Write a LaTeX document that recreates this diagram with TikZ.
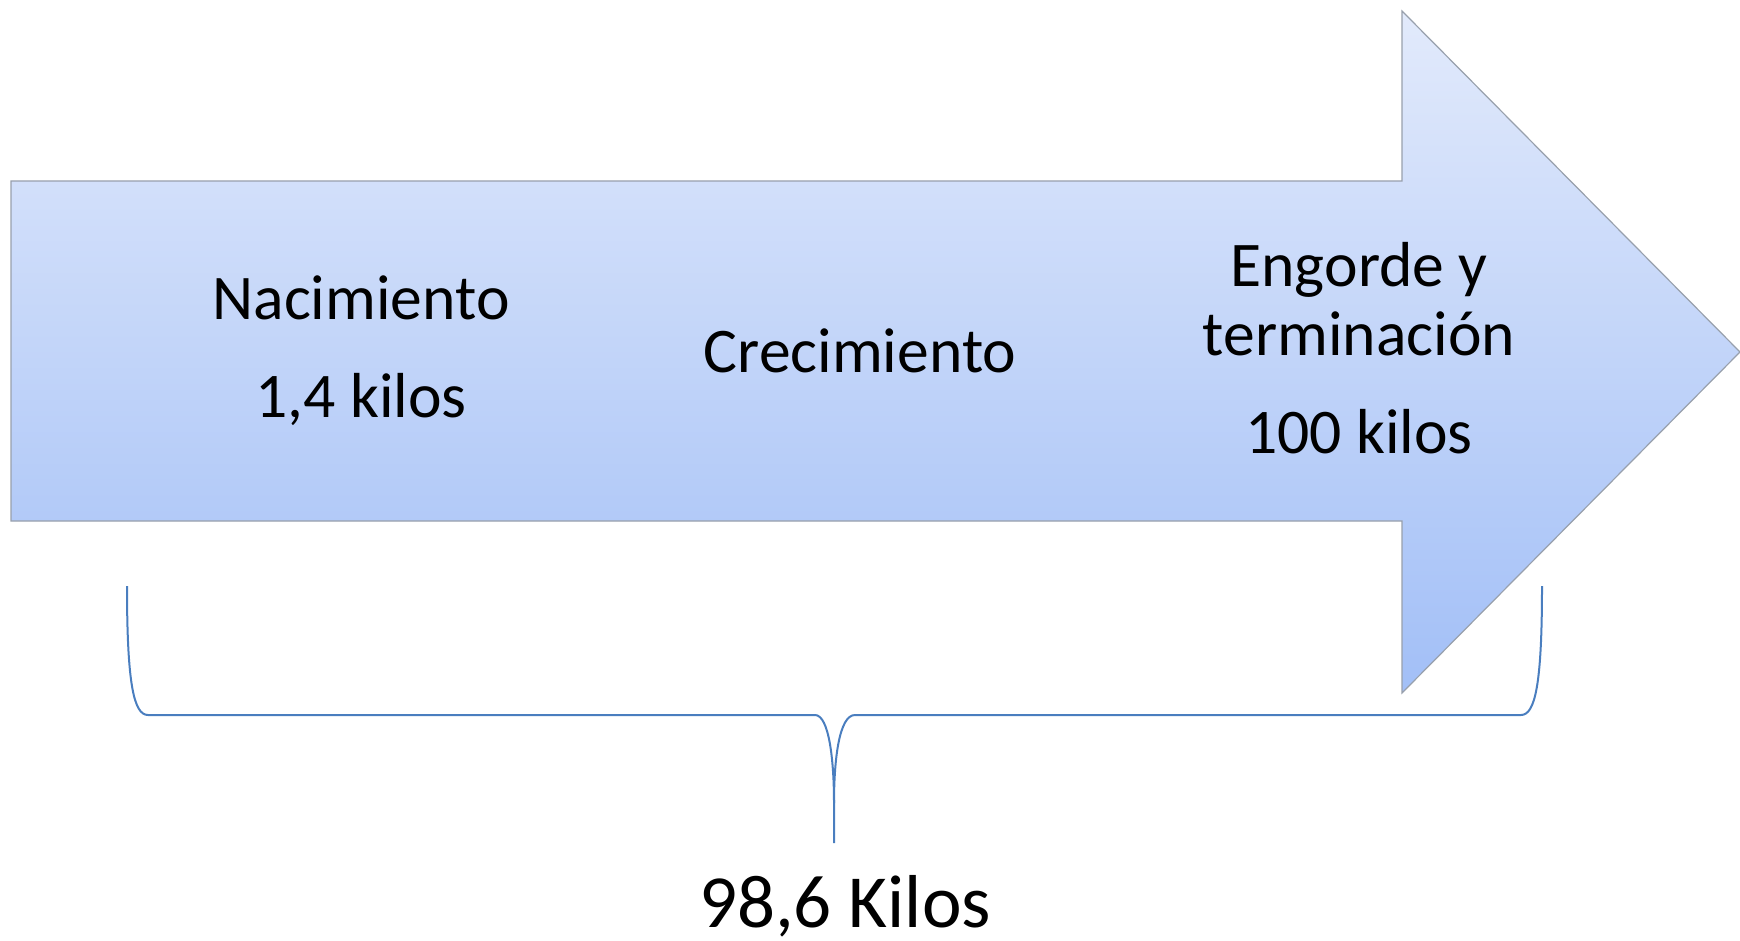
\documentclass[tikz,border=0pt]{standalone}
\usepackage{fontspec}
\setmainfont{Carlito}
\usepackage{tikz}
\usetikzlibrary{positioning,calc}
\definecolor{ArrTop}{HTML}{E2EAFB}
\definecolor{ArrBot}{HTML}{A2BFF7}
\definecolor{Edge}{HTML}{98A0AC}
\definecolor{Brace}{HTML}{4A7EBF}
\tikzset{
  bigarrow/.style={draw=Edge,line width=0.6pt,top color=ArrTop,bottom color=ArrBot},
  bracestyle/.style={draw=Brace,line width=1pt},
  phase/.style={anchor=base,inner sep=0pt,font=\fontsize{31.8}{36}\selectfont},
  total/.style={anchor=base,inner sep=0pt,font=\fontsize{37.5}{44}\selectfont}
}

\begin{document}
\begin{tikzpicture}[x=0.5pt,y=-0.5pt]
  \useasboundingbox (0,0) rectangle (1740,941);
  % arrow
  \coordinate (bl) at (11,521);
  \coordinate (tl) at (11,181);
  \coordinate (tip) at (1740,352);
  \draw[bigarrow] (tl) -- (1402,181) -- (1402,11) -- (tip) -- (1402,693) -- (1402,521) -- (bl) -- cycle;
  % phases
  \node[phase] (birth) at (361,320) {Nacimiento};
  \node[phase] (birthkg) at (361,417) {1,4 kilos};
  \node[phase] (grow) at (860,372) {Crecimiento};
  \node[phase] (fat) at (1359,286) {Engorde y};
  \node[phase] (fatend) at (1359,355) {terminación};
  \node[phase] (endkg) at (1359,453) {100 kilos};
  % brace
  \coordinate (bl0) at (127,586);
  \coordinate (br0) at (1542,586);
  \coordinate (mid) at (834,803);
  \coordinate (low) at (834,843);
  \draw[bracestyle] (bl0) .. controls (127,685) and (134,715) .. (148,715) -- (815,715)
    .. controls (829,715) and (834,760) .. (mid) -- (low);
  \draw[bracestyle] (mid) .. controls (834,760) and (839,715) .. (855,715) -- (1521,715)
    .. controls (1535,715) and (1542,685) .. (br0);
  \node[total] (gain) at (845,927) {98,6 Kilos};
\end{tikzpicture}
\end{document}
